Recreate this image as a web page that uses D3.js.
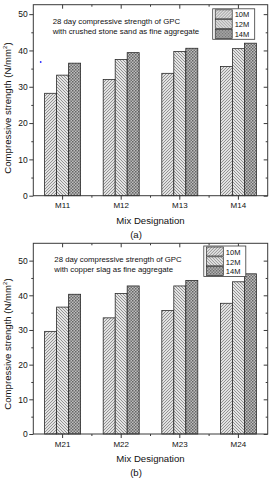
<!DOCTYPE html>
<html>
<head>
<meta charset="utf-8">
<script src="https://cdn.jsdelivr.net/npm/d3@7"></script>
<style>
  html, body { margin: 0; padding: 0; background: #fff; }
  svg { display: block; }
  text { font-family: "Liberation Sans", Arial, sans-serif; fill: #111; }
</style>
</head>
<body>
<svg id="chart" width="272" height="480"></svg>
<script>
// ---- Data ----
const seriesNames = ["10M", "12M", "14M"];

const categoriesA = ["M11", "M12", "M13", "M14"];
const values10A = [28.2, 32.0, 33.7, 35.6];
const values12A = [33.2, 37.5, 39.7, 40.5];
const values14A = [36.5, 39.4, 40.6, 42.0];

const categoriesB = ["M21", "M22", "M23", "M24"];
const values10B = [29.6, 33.5, 35.6, 37.7];
const values12B = [36.6, 40.5, 42.7, 43.9];
const values14B = [40.3, 42.7, 44.3, 46.2];

const yTicksA = [0, 10, 20, 30, 40, 50];
const yTicksB = [0, 10, 20, 30, 40, 50];

const titleA = ["28 day compressive strength of GPC", "with crushed stone sand as fine aggregate"];
const titleB = ["28 day compressive strength of GPC", "with copper slag as fine aggregate"];

const xAxisTitle = "Mix Designation";
const panelTagA = "(a)";
const panelTagB = "(b)";

// ---- Drawing ----
const svg = d3.select("#chart");
const defs = svg.append("defs");

// 10M: forward diagonal hatch
const p1 = defs.append("pattern").attr("id", "pat10").attr("patternUnits", "userSpaceOnUse")
  .attr("width", 3).attr("height", 3);
p1.append("rect").attr("width", 3).attr("height", 3).attr("fill", "#e2e2e2");
p1.append("path").attr("d", "M-1,1 L1,-1 M0,3 L3,0 M2,4 L4,2").attr("stroke", "#7e7e7e").attr("stroke-width", 0.8);

// 12M: backward diagonal hatch
const p2 = defs.append("pattern").attr("id", "pat12").attr("patternUnits", "userSpaceOnUse")
  .attr("width", 3).attr("height", 3);
p2.append("rect").attr("width", 3).attr("height", 3).attr("fill", "#e4e4e4");
p2.append("path").attr("d", "M-1,2 L1,4 M0,0 L3,3 M2,-1 L4,1").attr("stroke", "#7e7e7e").attr("stroke-width", 0.8);

// 14M: dense checker
const p3 = defs.append("pattern").attr("id", "pat14").attr("patternUnits", "userSpaceOnUse")
  .attr("width", 3).attr("height", 3);
p3.append("rect").attr("width", 3).attr("height", 3).attr("fill", "#bdbdbd");
p3.append("rect").attr("x", 0).attr("y", 0).attr("width", 1.5).attr("height", 1.5).attr("fill", "#646464");
p3.append("rect").attr("x", 1.5).attr("y", 1.5).attr("width", 1.5).attr("height", 1.5).attr("fill", "#707070");

const fills = ["url(#pat10)", "url(#pat12)", "url(#pat14)"];

function drawPanel(cfg) {
  const g = svg.append("g");
  const left = 33.3, right = 267.7;
  const x = d3.scaleBand().domain(cfg.categories).range([left, right]).padding(0);
  const y = d3.scaleLinear().domain(cfg.yDomain).range([cfg.bottom, cfg.top]);
  const groupW = 36;
  const xs = d3.scaleBand().domain(seriesNames).range([0, groupW]).padding(0);

  const series = [cfg.v10, cfg.v12, cfg.v14];

  series.forEach((vals, si) => {
    g.selectAll(null).data(cfg.categories).enter().append("rect")
      .attr("x", (c) => x(c) + (x.bandwidth() - groupW) / 2 + xs(seriesNames[si]))
      .attr("y", (c, i) => y(vals[i]))
      .attr("width", xs.bandwidth())
      .attr("height", (c, i) => y(0) - y(vals[i]))
      .attr("fill", fills[si])
      .attr("stroke", "#2a2a2a").attr("stroke-width", 0.8);
  });

  g.append("rect").attr("x", left).attr("y", cfg.top).attr("width", right - left)
    .attr("height", cfg.bottom - cfg.top).attr("fill", "none").attr("stroke", "#3a3a3a").attr("stroke-width", 1);

  const yMinor = d3.range(5, cfg.yDomain[1], 10);
  const yAxisL = d3.axisLeft(y).tickValues(cfg.yTicks).tickSize(4).tickPadding(1.5).tickFormat(d3.format("d"));
  const gl = g.append("g").attr("transform", `translate(${left},0)`).call(yAxisL);
  gl.select(".domain").remove();
  gl.selectAll("line").attr("stroke", "#3a3a3a");
  gl.selectAll("text").style("font-size", "8.5px").attr("fill", "#111").style("font-family", "Liberation Sans, Arial, sans-serif");
  g.append("g").attr("transform", `translate(${left},0)`)
    .call(d3.axisLeft(y).tickValues(yMinor).tickSize(2).tickFormat(""))
    .call(s => s.select(".domain").remove()).selectAll("line").attr("stroke", "#3a3a3a");

  g.append("g").attr("transform", `translate(${right},0)`)
    .call(d3.axisRight(y).tickValues(cfg.yTicks).tickSize(-4).tickFormat(""))
    .call(s => s.select(".domain").remove()).selectAll("line").attr("stroke", "#3a3a3a");
  g.append("g").attr("transform", `translate(${right},0)`)
    .call(d3.axisRight(y).tickValues(yMinor).tickSize(-2).tickFormat(""))
    .call(s => s.select(".domain").remove()).selectAll("line").attr("stroke", "#3a3a3a");

  const xb = g.append("g").attr("transform", `translate(0,${cfg.bottom})`)
    .call(d3.axisBottom(x).tickSize(4).tickPadding(3));
  xb.select(".domain").remove();
  xb.selectAll("line").attr("stroke", "#3a3a3a");
  xb.selectAll("text").style("font-size", "8px").attr("fill", "#111").style("font-family", "Liberation Sans, Arial, sans-serif");
  const bounds = cfg.categories.slice(1).map(c => x(c));
  g.selectAll(null).data(bounds).enter().append("line")
    .attr("x1", d => d).attr("x2", d => d).attr("y1", cfg.bottom).attr("y2", cfg.bottom + 2)
    .attr("stroke", "#3a3a3a");
  const xt = g.append("g").attr("transform", `translate(0,${cfg.top})`)
    .call(d3.axisTop(x).tickSize(-4).tickFormat(""));
  xt.select(".domain").remove();
  xt.selectAll("line").attr("stroke", "#3a3a3a");
  g.selectAll(null).data(bounds).enter().append("line")
    .attr("x1", d => d).attr("x2", d => d).attr("y1", cfg.top).attr("y2", cfg.top + 2)
    .attr("stroke", "#3a3a3a");

  cfg.title.forEach((t, i) => {
    g.append("text").attr("x", cfg.titleX).attr("y", cfg.titleY + i * cfg.titleDy)
      .style("font-size", "7.8px").text(t);
  });

  const lg = g.append("g").attr("transform", `translate(${cfg.legX},${cfg.legY})`);
  lg.append("rect").attr("x", 0).attr("y", 0).attr("width", cfg.legW).attr("height", 30.5)
    .attr("fill", "#fff").attr("stroke", "#3a3a3a").attr("stroke-width", 0.8);
  seriesNames.forEach((s, i) => {
    lg.append("rect").attr("x", 2.5).attr("y", 1 + i * 9.8).attr("width", 17).attr("height", 9)
      .attr("fill", fills[i]).attr("stroke", "#2a2a2a").attr("stroke-width", 0.7);
    lg.append("text").attr("x", 22).attr("y", 8.7 + i * 9.8).style("font-size", "7.5px").text(s);
  });

  const yl = g.append("text").attr("transform", `translate(10.5,${cfg.yLabelMid}) rotate(-90)`)
    .attr("text-anchor", "middle").style("font-size", "9.6px");
  yl.append("tspan").text("Compressive strength (N/mm");
  yl.append("tspan").attr("dy", -3.5).style("font-size", "6px").text("2");
  yl.append("tspan").attr("dy", 3.5).text(")");

  g.append("text").attr("x", (left + right) / 2).attr("y", cfg.bottom + 28)
    .attr("text-anchor", "middle").style("font-size", "9.6px").text(xAxisTitle);
  g.append("text").attr("x", 136).attr("y", cfg.bottom + 42)
    .attr("text-anchor", "middle").style("font-size", "9.6px").text(cfg.tag);
}

drawPanel({
  categories: categoriesA, v10: values10A, v12: values12A, v14: values14A,
  yDomain: [0, 52.6], yTicks: yTicksA, top: 4.7, bottom: 195.7,
  title: titleA, titleX: 52.7, titleY: 23.5, titleDy: 10.3,
  legX: 212.7, legY: 8.8, legW: 42, yLabelMid: 108, tag: panelTagA
});

drawPanel({
  categories: categoriesB, v10: values10B, v12: values12B, v14: values14B,
  yDomain: [0, 55], yTicks: yTicksB, top: 243.3, bottom: 434,
  title: titleB, titleX: 54.3, titleY: 262, titleDy: 9.6,
  legX: 203.8, legY: 246, legW: 42, yLabelMid: 344, tag: panelTagB
});

svg.append("circle").attr("cx", 40.7).attr("cy", 62).attr("r", 0.9).attr("fill", "#2a2aff");
</script>
</body>
</html>
